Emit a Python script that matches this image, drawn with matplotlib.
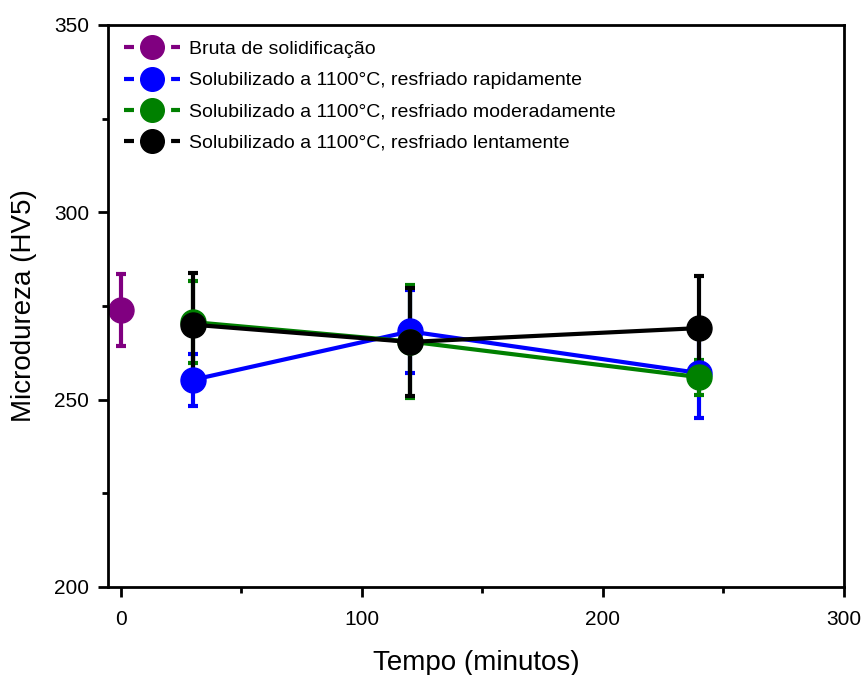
import matplotlib
matplotlib.use("Agg")
import matplotlib.pyplot as plt
from matplotlib.ticker import MultipleLocator
from matplotlib.lines import Line2D

plt.rcParams['font.family'] = ['Liberation Sans', 'DejaVu Sans']

labels = ["Bruta de solidificação",
          "Solubilizado a 1100°C, resfriado rapidamente",
          "Solubilizado a 1100°C, resfriado moderadamente",
          "Solubilizado a 1100°C, resfriado lentamente"]
colors = ["#800080", "#0000FF", "#008000", "#000000"]

x_bruta = [0]
y_bruta = [274.0]
e_bruta = [9.6]

x_sol = [30, 120, 240]
y_rapid = [255.3, 268.2, 257.1]
e_rapid = [7.0, 11.0, 12.0]
y_moder = [270.7, 265.5, 256.0]
e_moder = [11.0, 15.0, 4.7]
y_lento = [270.0, 265.4, 269.1]
e_lento = [13.7, 14.3, 13.9]

series = [(x_bruta, y_bruta, e_bruta),
          (x_sol, y_rapid, e_rapid),
          (x_sol, y_moder, e_moder),
          (x_sol, y_lento, e_lento)]

fig = plt.figure(figsize=(8.66, 6.75), dpi=100)
ax = fig.add_axes([0.1247, 0.1304, 0.8499, 0.8326])

for (xs, ys, es), c, lab in zip(series, colors, labels):
    ax.errorbar(xs, ys, yerr=es, color=c, lw=3, marker='o', ms=18,
                capsize=3.8, capthick=3, elinewidth=3, label=lab)

ax.set_xlim(-5.3, 300)
ax.set_ylim(200, 350)
ax.xaxis.set_major_locator(MultipleLocator(100))
ax.xaxis.set_minor_locator(MultipleLocator(50))
ax.yaxis.set_major_locator(MultipleLocator(50))
ax.yaxis.set_minor_locator(MultipleLocator(25))
ax.tick_params(which='both', direction='out', width=2, labelsize=15)
ax.tick_params(which='major', length=7.5, pad=6)
ax.tick_params(axis='x', which='major', pad=9)
ax.tick_params(which='minor', length=4)
for s in ax.spines.values():
    s.set_linewidth(2)

ax.set_xlabel("Tempo (minutos)", fontsize=20, labelpad=15)
ax.set_ylabel("Microdureza (HV5)", fontsize=20, labelpad=12)

handles = [Line2D([], [], color=c, lw=3, ls=(0, (2.4, 8.9, 2.4, 100)),
                  marker='o', ms=17)
           for c in colors]
ax.legend(handles, labels, loc='upper left', frameon=False, fontsize=14,
          handlelength=2.9, handletextpad=0.45, labelspacing=0.7,
          bbox_to_anchor=(0.0, 1.0), borderaxespad=0.45, borderpad=0.35)

fig.savefig("out.png", dpi=100)
